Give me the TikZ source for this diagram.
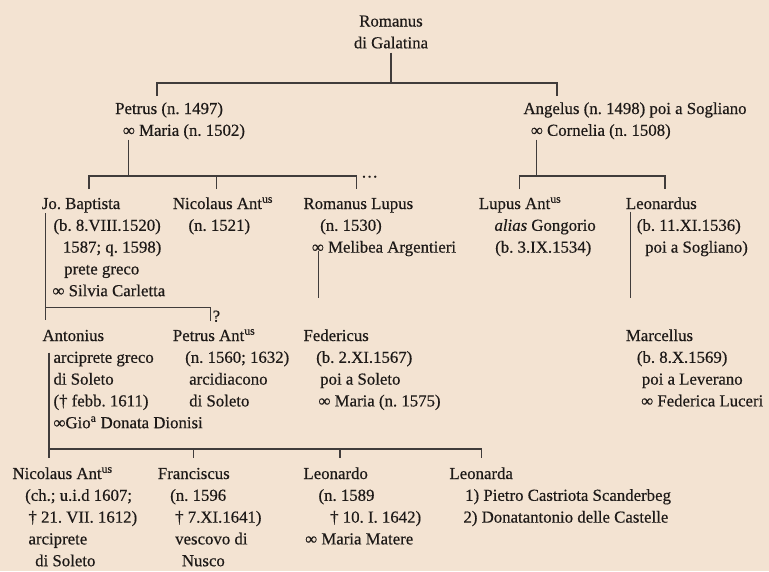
\documentclass[tikz,border=0pt]{standalone}
\usepackage{fontspec}
\setmainfont{Liberation Serif}[UprightFeatures={FakeBold=0.5},ItalicFeatures={FakeBold=0.5}]
\usetikzlibrary{calc}
\definecolor{paper}{RGB}{243,227,210}
\definecolor{ink}{RGB}{30,26,24}
\frenchspacing

\tikzset{
  person/.style={anchor=base west, align=left, inner sep=0pt, text=ink,
    font=\fontsize{16.8}{21.8}\selectfont},
  % the base of a block is its last line: shift down by the other lines
  rows/.style={yshift={-(#1-1)*21.8pt}},
  stem/.style={draw=ink!85, line width=1.2pt},
}

\begin{document}
\begin{tikzpicture}[x=1pt,y=-1pt]
    \path[use as bounding box, fill=paper] (0,0) rectangle (769,571);

    % First generation
    \node[person, anchor=base, align=center, rows=2] (romanus) at (391,26.5) {Romanus\\di Galatina};
    \node[person, rows=2] (petrus) at (115,114) {Petrus (n. 1497)\\
      \hspace*{7.7pt}∞ Maria (n. 1502)};
    \node[person, rows=2] (angelus) at (523.3,114) {Angelus (n. 1498) poi a Sogliano\\
      \hspace*{7.4pt}∞ Cornelia (n. 1508)};

    % Children of Petrus and Angelus
    \node[person, rows=5] (baptista) at (41.7,209) {Jo. Baptista\\
      \hspace*{11.6pt}(b. 8.VIII.1520)\\
      \hspace*{21pt}1587; q. 1598)\\
      \hspace*{22.3pt}prete greco\\
      \hspace*{10.6pt}∞ Silvia Carletta};
    \node[person, rows=2] (nicolaus) at (172.7,209) {Nicolaus Ant\textsuperscript{us}\\
      \hspace*{15.6pt}(n. 1521)};
    \node[person, rows=3] (lupus) at (303.3,209) {Romanus Lupus\\
      \hspace*{16.7pt}(n. 1530)\\
      \hspace*{8.4pt}∞ Melibea Argentieri};
    \node[person, rows=3] (lupusant) at (478.7,209) {Lupus Ant\textsuperscript{us}\\
      \hspace*{15.6pt}\textit{alias} Gongorio\\
      \hspace*{16.3pt}(b. 3.IX.1534)};
    \node[person, rows=3] (leonardus) at (625.7,209) {Leonardus\\
      \hspace*{11pt}(b. 11.XI.1536)\\
      \hspace*{19.3pt}poi a Sogliano)};
    \node[person] (dots) at (361,177.5) {…};

    % Grandchildren
    \node[person, rows=5] (antonius) at (42.3,341) {Antonius\\
      \hspace*{11pt}arciprete greco\\
      \hspace*{11pt}di Soleto\\
      \hspace*{11pt}(† febb. 1611)\\
      \hspace*{11pt}∞Gio\textsuperscript{a} Donata Dionisi};
    \node[person, rows=4] (petrusant) at (172.7,341) {Petrus Ant\textsuperscript{us}\\
      \hspace*{12.3pt}(n. 1560; 1632)\\
      \hspace*{16.3pt}arcidiacono\\
      \hspace*{16.3pt}di Soleto};
    \node[person] (query) at (212.5,321.7) {?};
    \node[person, rows=4] (federicus) at (303.3,341) {Federicus\\
      \hspace*{12.7pt}(b. 2.XI.1567)\\
      \hspace*{16.7pt}poi a Soleto\\
      \hspace*{15pt}∞ Maria (n. 1575)};
    \node[person, rows=4] (marcellus) at (625.7,341) {Marcellus\\
      \hspace*{11pt}(b. 8.X.1569)\\
      \hspace*{16pt}poi a Leverano\\
      \hspace*{15.3pt}∞ Federica Luceri};

    % Children of Antonius
    \node[person, rows=5] (nicolausjr) at (12.3,479) {Nicolaus Ant\textsuperscript{us}\\
      \hspace*{12.7pt}(ch.; u.i.d 1607;\\
      \hspace*{16pt}† 21. VII. 1612)\\
      \hspace*{16pt}arciprete\\
      \hspace*{22.7pt}di Soleto};
    \node[person, rows=5] (franciscus) at (157.7,479) {Franciscus\\
      \hspace*{12.3pt}(n. 1596\\
      \hspace*{17.3pt}† 7.XI.1641)\\
      \hspace*{17.3pt}vescovo di\\
      \hspace*{24pt}Nusco};
    \node[person, rows=4] (leonardo) at (303.3,479) {Leonardo\\
      \hspace*{15pt}(n. 1589\\
      \hspace*{26.7pt}† 10. I. 1642)\\
      \hspace*{1.7pt}∞ Maria Matere};
    \node[person, rows=3] (leonarda) at (449.3,479) {Leonarda\\
      \hspace*{15.7pt}1) Pietro Castriota Scanderbeg\\
      \hspace*{14pt}2) Donatantonio delle Castelle};

    % Fork points and tick ends
    \coordinate (j0) at (391,83);
    \coordinate (j1) at (128.5,176);
    \coordinate (j2) at (536.7,176);
    \coordinate (j3) at (45.7,307.7);
    \coordinate (j4) at (49,449);
    \coordinate (t-petrus) at (157,95.5);
    \coordinate (t-angelus) at (557,95.5);
    \coordinate (t-baptista) at (89,189);
    \coordinate (t-nicolaus) at (216.7,189);
    \coordinate (t-lupus) at (356.7,189);
    \coordinate (t-lupusant) at (519.3,189);
    \coordinate (t-leonardus) at (665,189);
    \coordinate (t-antonius) at (45.7,320);
    \coordinate (t-petrusant) at (210.7,321);
    \coordinate (t-nicolausjr) at (49,457.5);
    \coordinate (t-franciscus) at (193.3,457.5);
    \coordinate (t-leonardo) at (340,457.5);
    \coordinate (t-leonarda) at (481.7,457.5);
    \coordinate (e-lupus) at (318.3,298.3);
    \coordinate (e-leonardus) at (630.7,298.3);

    % Romanus to his sons
    \draw[stem] ([yshift=-4pt]romanus.south) -- (j0);
    \draw[stem] (t-petrus) |- (j0) -| (t-angelus);

    % Petrus to his sons
    \draw[stem] (j1 |- petrus.south) -- (j1);
    \draw[stem] (t-baptista) |- (j1) -| (t-lupus);
    \draw[stem] (t-nicolaus) -- (t-nicolaus |- j1);

    % Angelus to his sons
    \draw[stem] (j2 |- angelus.south) -- (j2);
    \draw[stem] (t-lupusant) |- (j2) -| (t-leonardus);

    % Jo. Baptista to Antonius and (?) Petrus Ant.
    \draw[stem] (45.7,213) -- (t-antonius);
    \draw[stem] (j3) -| (t-petrusant);

    % lines without a child
    \draw[stem] (318.3,251) -- (e-lupus);
    \draw[stem] (630.7,211.7) -- (e-leonardus);

    % Antonius to his children
    \draw[stem] (49,352.5) -- (t-nicolausjr);
    \draw[stem] (j4) -| (t-leonarda);
    \draw[stem] (t-franciscus) -- (t-franciscus |- j4);
    \draw[stem] (t-leonardo) -- (t-leonardo |- j4);
\end{tikzpicture}
\end{document}
